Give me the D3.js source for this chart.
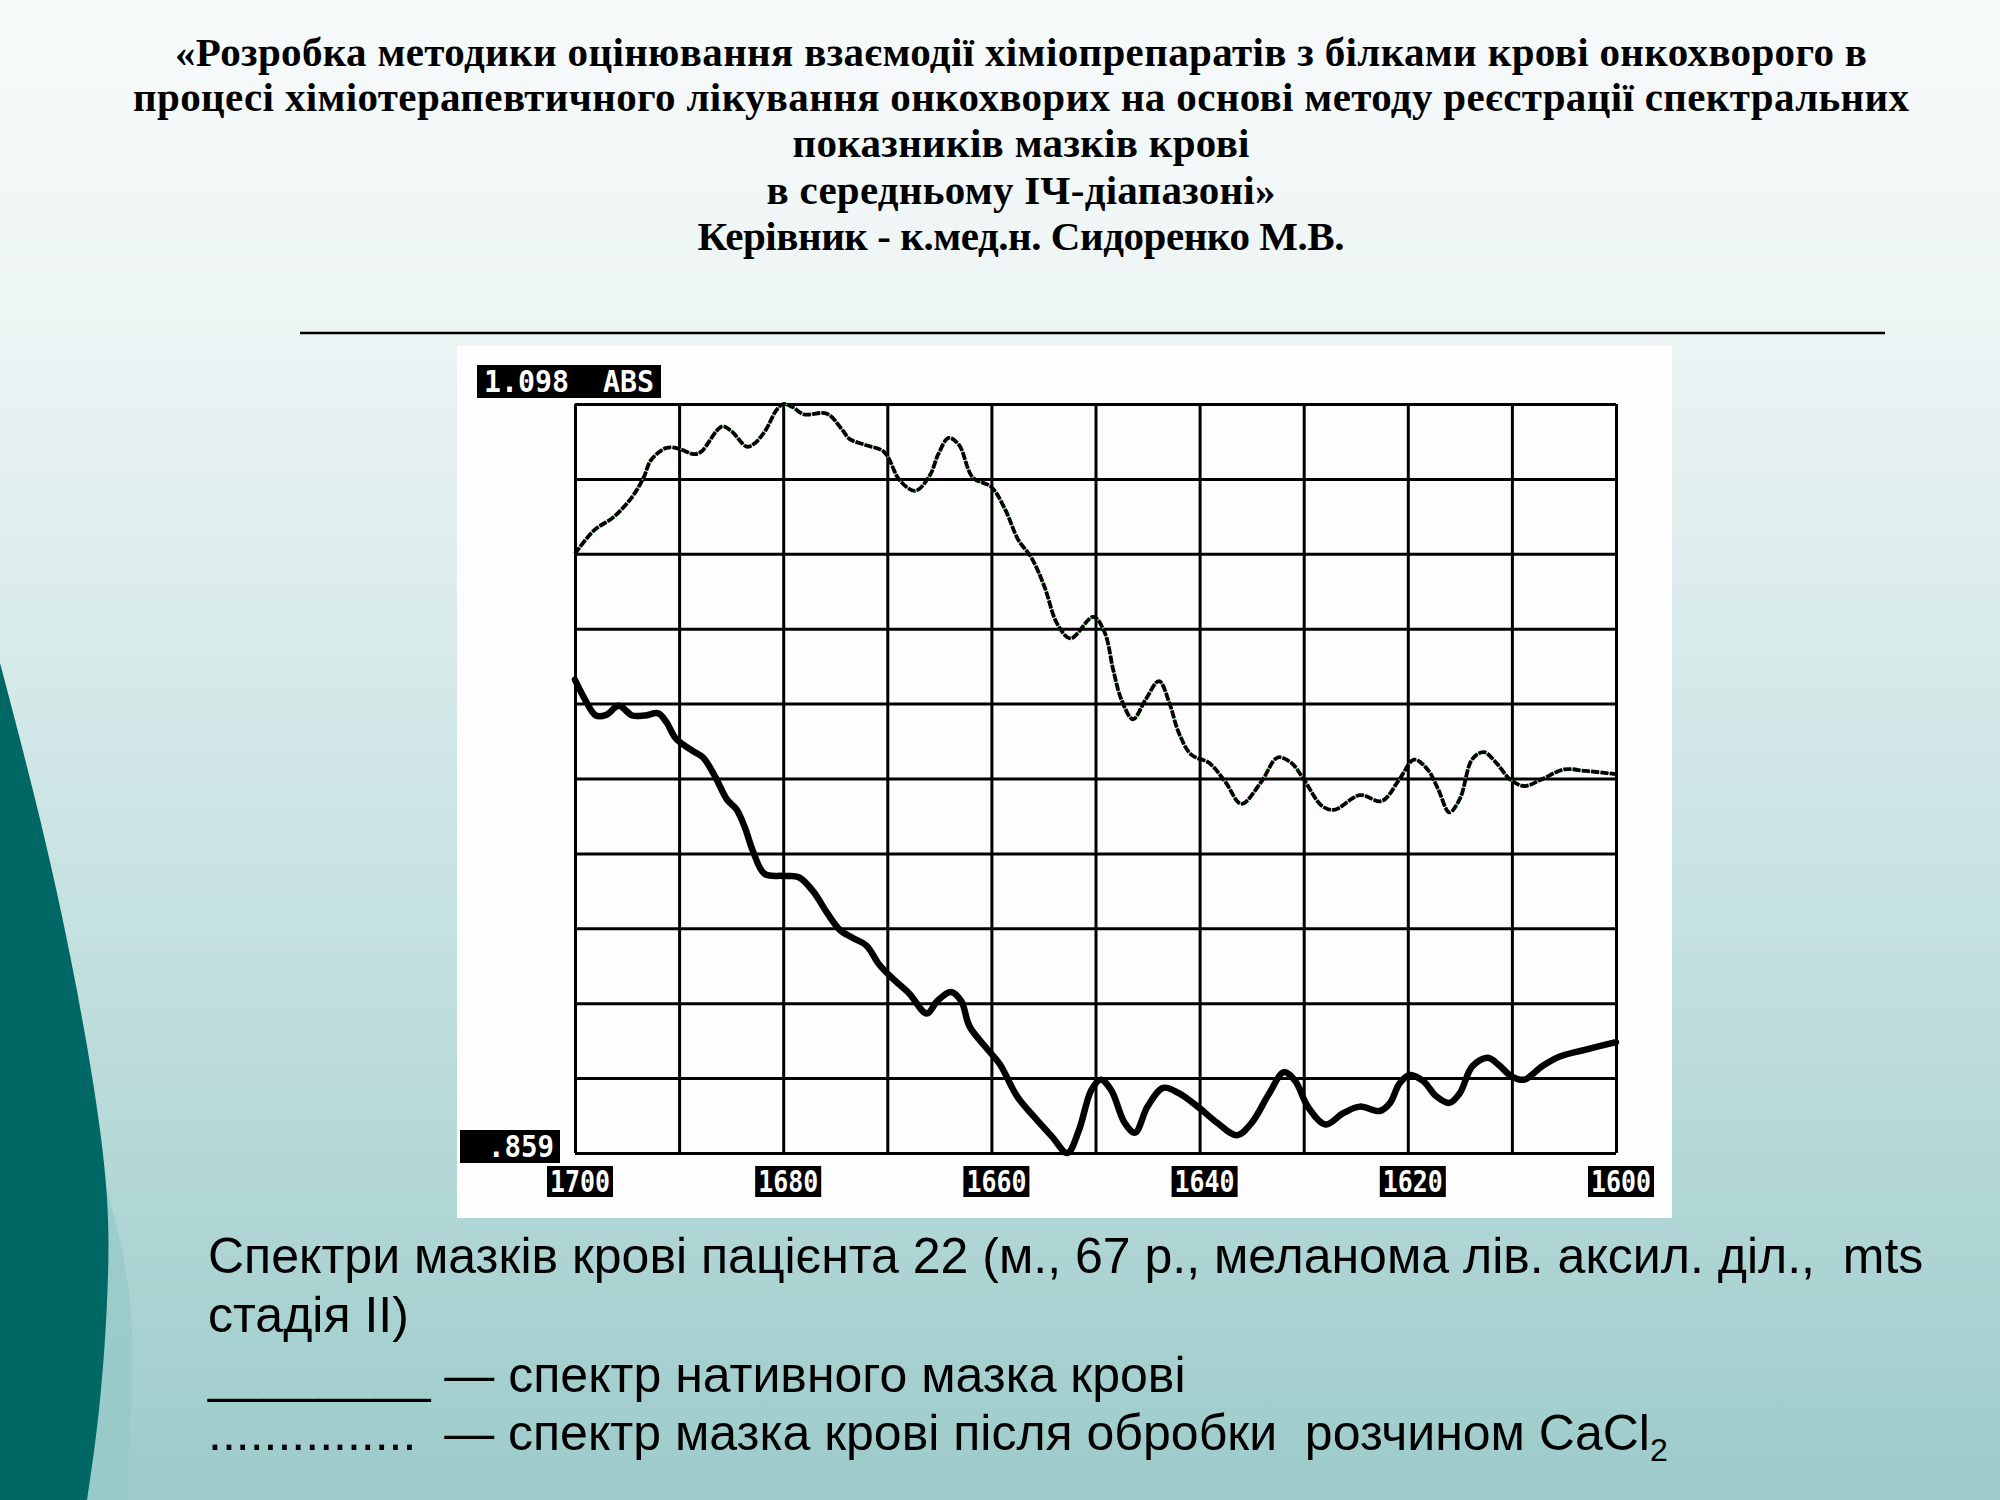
<!DOCTYPE html>
<html><head><meta charset="utf-8">
<script src="https://cdn.jsdelivr.net/npm/d3@7/dist/d3.min.js"></script>
<style>body{margin:0;background:#fff}svg{display:block}</style>
</head><body>
<script>
// ---------- data ----------
const titleLines = [
  "«Розробка методики оцінювання взаємодії хіміопрепаратів з білками крові онкохворого в",
  "процесі хіміотерапевтичного лікування онкохворих на основі методу реєстрації спектральних",
  "показників мазків крові",
  "в середньому ІЧ-діапазоні»",
  "Керівник - к.мед.н. Сидоренко М.В."
];
const captionLines = [
  "Спектри мазків крові пацієнта 22 (м., 67 р., меланома лів. аксил. діл.,  mts",
  "стадія II)",
  "________ — спектр нативного мазка крові",
  "...............  — спектр мазка крові після обробки  розчином CaCl"
];
const captionSub = "2";
const xTickLabels = [1700, 1680, 1660, 1640, 1620, 1600];
const yTopLabel = "1.098  ABS";
const yBottomLabel = ".859";
const xDomain = [1700, 1600];
const yDomain = [0.859, 1.098];

// upper (dotted) curve: after CaCl2 treatment  [wavenumber, absorbance]
const treated = [
  [1700.0,1.0502],[1698.2,1.0576],[1696.3,1.0619],[1694.5,1.0684],[1693.4,1.0746],
  [1692.7,1.0801],[1691.2,1.0840],[1690.0,1.0837],[1688.6,1.0820],[1687.9,1.0827],
  [1685.9,1.0908],[1685.0,1.0894],[1683.5,1.0844],[1682.8,1.0853],[1681.7,1.0896],
  [1680.7,1.0958],[1680.0,1.0980],[1679.1,1.0970],[1678.0,1.0947],[1675.8,1.0949],
  [1674.3,1.0896],[1673.6,1.0868],[1672.1,1.0849],[1670.3,1.0827],[1668.8,1.0736],
  [1667.3,1.0703],[1665.9,1.0753],[1665.1,1.0820],[1664.1,1.0872],[1663.1,1.0849],
  [1661.8,1.0746],[1660.0,1.0715],[1658.7,1.0645],[1657.4,1.0545],[1656.2,1.0492],
  [1654.9,1.0397],[1653.7,1.0280],[1652.4,1.0232],[1650.2,1.0301],[1649.1,1.0249],
  [1648.3,1.0132],[1647.5,1.0036],[1646.4,0.9974],[1645.2,1.0036],[1643.9,1.0096],
  [1642.9,1.0026],[1642.0,0.9931],[1640.8,0.9861],[1639.1,0.9835],[1637.5,0.9773],
  [1636.0,0.9704],[1634.1,0.9773],[1632.5,0.9852],[1631.2,0.9835],[1630.0,0.9783],
  [1628.3,0.9699],[1627.1,0.9685],[1624.6,0.9732],[1622.5,0.9713],[1620.8,0.9783],
  [1619.4,0.9845],[1618.1,0.9814],[1617.1,0.9752],[1616.0,0.9677],[1615.0,0.9720],
  [1613.8,0.9847],[1612.7,0.9869],[1611.5,0.9835],[1610.2,0.9783],[1608.8,0.9761],
  [1607.1,0.9783],[1605.0,0.9814],[1602.9,0.9809],[1600.0,0.9799]
];
// lower (solid, thick) curve: native blood smear
const native = [
  [1700.0,1.0100],[1699.1,1.0041],[1698.0,0.9986],[1697.0,0.9988],[1695.8,1.0017],
  [1694.5,0.9986],[1693.3,0.9986],[1692.0,0.9993],[1691.2,0.9964],[1690.3,0.9912],
  [1688.7,0.9873],[1687.7,0.9852],[1686.6,0.9795],[1685.4,0.9718],[1684.5,0.9687],
  [1683.7,0.9630],[1682.9,0.9553],[1681.8,0.9481],[1680.0,0.9474],[1678.5,0.9470],
  [1677.1,0.9424],[1675.8,0.9357],[1674.5,0.9300],[1673.3,0.9276],[1672.0,0.9252],
  [1670.8,0.9192],[1669.5,0.9147],[1667.9,0.9099],[1666.2,0.9035],[1665.2,0.9075],
  [1663.9,0.9104],[1662.9,0.9075],[1662.1,0.8994],[1660.4,0.8922],[1659.2,0.8874],
  [1657.5,0.8769],[1655.8,0.8702],[1654.2,0.8643],[1652.7,0.8590],[1651.6,0.8662],
  [1650.4,0.8791],[1649.5,0.8824],[1648.5,0.8791],[1647.2,0.8686],[1646.2,0.8655],
  [1645.0,0.8738],[1643.5,0.8798],[1642.0,0.8781],[1640.0,0.8733],[1638.3,0.8686],
  [1636.4,0.8647],[1635.0,0.8686],[1633.3,0.8781],[1631.9,0.8848],[1630.8,0.8819],
  [1629.6,0.8738],[1627.9,0.8681],[1626.2,0.8717],[1624.6,0.8738],[1622.7,0.8724],
  [1621.7,0.8750],[1620.8,0.8812],[1619.8,0.8839],[1618.5,0.8819],[1617.3,0.8772],
  [1616.0,0.8750],[1615.0,0.8781],[1613.8,0.8867],[1612.3,0.8894],[1611.3,0.8872],
  [1610.0,0.8834],[1608.8,0.8824],[1607.1,0.8867],[1605.4,0.8898],[1602.9,0.8920],
  [1600.0,0.8944]
];

// ---------- layout ----------
const W = 2000, H = 1500;
const plot = {left: 575, right: 1616, top: 404, bottom: 1153};

const svg = d3.select("body").append("svg")
  .attr("width", W).attr("height", H).attr("viewBox", `0 0 ${W} ${H}`);

const defs = svg.append("defs");
const grad = defs.append("linearGradient").attr("id", "bg")
  .attr("x1", 0).attr("y1", 0).attr("x2", 0).attr("y2", 1);
[[0, "#f7fafa"], [0.2, "#eef5f5"], [0.45, "#d6e9e9"], [0.7, "#bcdcdc"], [1, "#9ccbca"]]
  .forEach(([o, c]) => grad.append("stop").attr("offset", o).attr("stop-color", c));

svg.append("rect").attr("width", W).attr("height", H).attr("fill", "url(#bg)");

// decorative left arcs
const arc = d3.line().curve(d3.curveNatural);
svg.append("path")
  .attr("d", arc([[0, 900], [70, 1080], [122, 1250], [132, 1380], [126, 1500]]) + "L0,1500Z")
  .attr("fill", "#97c9c8").attr("opacity", 0.8);
svg.append("path")
  .attr("d", arc([[0, 663], [57, 893], [100, 1130], [108, 1275], [100, 1400], [87, 1500]]) + "L0,1500Z")
  .attr("fill", "#006864");

// title
const title = svg.append("g")
  .attr("font-family", "'Liberation Serif', 'DejaVu Serif', serif")
  .attr("font-weight", "bold").attr("font-size", 41).attr("fill", "#000")
  .attr("text-anchor", "middle");
const titleBase = [66, 111, 157, 204, 250];
const titleWidth = [1692, 1776, 457, 509, 647];
titleLines.forEach((t, i) => title.append("text").attr("x", 1021).attr("y", titleBase[i])
  .attr("textLength", titleWidth[i]).attr("lengthAdjust", "spacing").text(t));

// rule
svg.append("line").attr("x1", 300).attr("x2", 1885).attr("y1", 333).attr("y2", 333)
  .attr("stroke", "#000").attr("stroke-width", 2.5);

// white panel
svg.append("rect").attr("x", 457).attr("y", 346).attr("width", 1215).attr("height", 872)
  .attr("fill", "#fdfdfd");

// scales
const x = d3.scaleLinear().domain(xDomain).range([plot.left, plot.right]);
const y = d3.scaleLinear().domain(yDomain).range([plot.bottom, plot.top]);
const pw = plot.right - plot.left, ph = plot.bottom - plot.top;

// grid via axes
const xGridVals = d3.range(11).map(i => xDomain[0] + (xDomain[1] - xDomain[0]) * i / 10);
const yGridVals = d3.range(11).map(i => yDomain[0] + (yDomain[1] - yDomain[0]) * i / 10);
const gx = svg.append("g").attr("transform", `translate(0,${plot.bottom})`)
  .call(d3.axisBottom(x).tickValues(xGridVals).tickSize(-ph).tickFormat(""));
const gy = svg.append("g").attr("transform", `translate(${plot.left},0)`)
  .call(d3.axisLeft(y).tickValues(yGridVals).tickSize(-pw).tickFormat(""));
[gx, gy].forEach(g => {
  g.select(".domain").remove();
  g.selectAll(".tick line").attr("stroke", "#000").attr("stroke-width", 3);
});

// curves
const line = d3.line().x(d => x(d[0])).y(d => y(d[1])).curve(d3.curveCatmullRom.alpha(0.5));
svg.append("path").datum(native).attr("d", line)
  .attr("fill", "none").attr("stroke", "#000").attr("stroke-width", 6.5)
  .attr("stroke-linejoin", "round").attr("stroke-linecap", "round");
svg.append("path").datum(treated).attr("d", line)
  .attr("fill", "none").attr("stroke", "#3de03d").attr("stroke-width", 1.6);
svg.append("path").datum(treated).attr("d", line)
  .attr("fill", "none").attr("stroke", "#000").attr("stroke-width", 3.8)
  .attr("stroke-dasharray", "8 1.3");

// boxed labels
function boxLabel(cx, top, w, h, text, fs, tl, anchor) {
  svg.append("rect").attr("x", cx - w / 2).attr("y", top).attr("width", w).attr("height", h).attr("fill", "#000");
  const t = svg.append("text")
    .attr("y", top + h / 2 + fs * 0.36)
    .attr("font-family", "'DejaVu Sans Mono', 'Liberation Mono', monospace")
    .attr("font-weight", "bold")
    .attr("font-size", fs).attr("fill", "#fff")
    .attr("textLength", tl).attr("lengthAdjust", "spacingAndGlyphs")
    .style("white-space", "pre").text(text);
  if (anchor === "end") t.attr("x", cx + w / 2 - 6).attr("text-anchor", "end");
  else t.attr("x", cx).attr("text-anchor", "middle");
}
boxLabel(569, 365, 184, 33, yTopLabel, 30, 170, "middle");
boxLabel(510, 1130, 100, 33, yBottomLabel, 30, 66, "end");
xTickLabels.forEach(v => boxLabel(x(v) + 5, 1166, 66, 31, String(v), 30, 60, "middle"));

// caption
const cap = svg.append("g")
  .attr("font-family", "'Liberation Sans', Arial, sans-serif")
  .attr("font-size", 50).attr("fill", "#000");
const capBase = [1273, 1332, 1392, 1450];
captionLines.forEach((t, i) => {
  const tx = cap.append("text").attr("x", 208).attr("y", capBase[i]).style("white-space", "pre").text(t);
  if (i === 3) tx.append("tspan").attr("font-size", 32).attr("dy", 11).text(captionSub);
});
</script>
</body></html>
